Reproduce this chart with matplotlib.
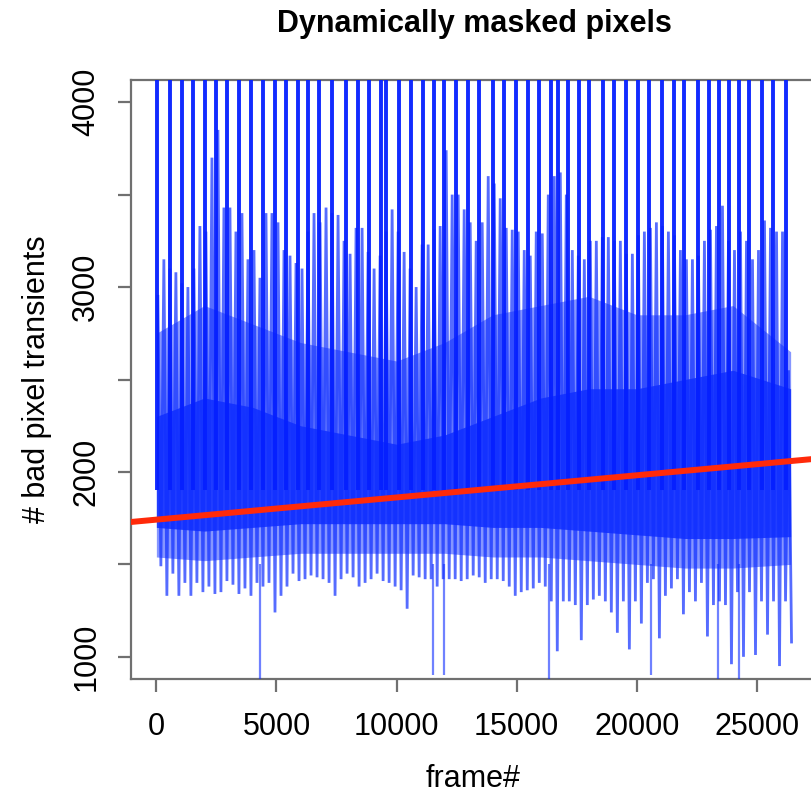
import numpy as np
import matplotlib
matplotlib.use("Agg")
import matplotlib.pyplot as plt

plt.rcParams['font.family'] = ['Liberation Sans', 'DejaVu Sans']

# ---- data ----
bin_start = 125          # centre of first 250-frame bin
bin_step = 250
upper_tips = [2950, 3150, 3100, 3080, 3020, 3000, 3100, 3330, 3300, 3700, 3850, 3430, 3430, 3300,
              3400, 3150, 3200, 3050, 3400, 3400, 3350, 3200, 3170, 3130, 3100, 3300, 3400,
              3350, 3430, 3400, 3390, 3250, 3180, 3320, 3320, 3190, 3100, 3170, 3300, 3420, 3300,
              3190, 3100, 3000, 3230, 3230, 3310, 3330, 3740, 3500, 3500, 3420, 3350, 3250,
              3350, 3600, 3560, 3480, 3320, 3310, 3300, 3200, 3170, 3300, 3290, 3500, 3600, 3620,
              3500, 3200, 3170, 3150, 3250, 3250, 3270, 3270, 3250, 3250, 3180, 3180, 3280,
              3300, 3320, 3350, 3330, 3300, 3280, 3200, 3150, 3150, 3170, 3250, 3310, 3330, 3440,
              3250, 3200, 3300, 3250, 3150, 3200, 3360, 3320, 3300, 3300, 2550]
lower_tips = [1490, 1330, 1450, 1330, 1400, 1330, 1400, 1350, 1380, 1340, 1350, 1410, 1390, 1340,
              1370, 1330, 1400, 1380, 1400, 1240, 1330, 1380, 1450, 1410, 1420, 1440, 1430,
              1420, 1400, 1330, 1420, 1450, 1430, 1380, 1400, 1420, 1450, 1410, 1400, 1380, 1360,
              1260, 1440, 1430, 1420, 1420, 1380, 1420, 1420, 1420, 1410, 1420, 1440, 1430,
              1400, 1420, 1420, 1410, 1380, 1330, 1350, 1360, 1370, 1400, 1380, 1300, 1030, 1300,
              1300, 1280, 1090, 1280, 1310, 1330, 1300, 1240, 1130, 1300, 1040, 1300, 1180,
              1400, 1420, 1100, 1330, 1370, 1420, 1230, 1350, 1300, 1400, 1110, 1280, 1300, 1280,
              960, 1350, 1000, 1350, 1010, 1300, 1120, 1300, 950, 1300, 1080]

band_frames = [0, 2000, 4000, 6000, 8000, 10000, 12000, 14000, 16000, 18000, 20000, 22000, 24000, 26400]
core_top = [2300, 2400, 2350, 2250, 2200, 2150, 2200, 2300, 2400, 2450, 2450, 2500, 2550, 2450]
core_bottom = [1700, 1680, 1700, 1720, 1720, 1720, 1720, 1700, 1700, 1680, 1660, 1640, 1640, 1650]
mid_top = [2750, 2900, 2800, 2700, 2650, 2600, 2700, 2850, 2900, 2950, 2850, 2850, 2900, 2650]
mid_bottom = [1540, 1520, 1540, 1560, 1560, 1560, 1560, 1540, 1540, 1520, 1500, 1480, 1480, 1500]

spike_frames = [40, 580, 1080, 1540, 2040, 2500, 2960, 3420, 3920, 4420, 4920, 5380, 5880, 6330,
                6790, 7330, 7880, 8380, 8830, 9330, 9540, 10080, 10580, 11080, 11540, 11960,
                12460, 12960, 13420, 14000, 14460, 14960, 15460, 15920, 16420, 16710, 17130,
                17580, 18000, 18580, 19040, 19540, 20040, 20500, 21040, 21540, 21960, 22540,
                23000, 23420, 23830, 24250, 24670, 25210, 25670, 26210]
spike_top = 4600

dip_frames = [4330, 11500, 11960, 16330, 20580, 23380, 24250]
dip_bottom = [850, 900, 900, 860, 900, 850, 850]

trend_intercept = 1742
trend_slope = 0.012

xticks = [0, 5000, 10000, 15000, 20000, 25000]
yticks_labeled = [1000, 2000, 3000, 4000]
yticks_minor = [1500, 2500, 3500]

# ---- figure ----
W, H = 811, 794
fig = plt.figure(figsize=(W / 100, H / 100), dpi=100)
ax = fig.add_axes([131 / W, (H - 679) / H, 685 / W, 599 / H])

blue = (0.06, 0.18, 1.0)
n = len(upper_tips)
centres = bin_start + bin_step * np.arange(n)
zx, zy = [], []
for c, h, l in zip(centres, upper_tips, lower_tips):
    zx += [c - bin_step / 4, c + bin_step / 4]
    zy += [h, l]

ax.fill_between(band_frames, mid_bottom, mid_top, color=blue, lw=0, alpha=0.5, zorder=2)
ax.fill_between(band_frames, core_bottom, core_top, color=blue, lw=0, alpha=0.85, zorder=2)
ax.plot(zx, zy, color=blue, lw=2.0, alpha=0.7, zorder=3, solid_joinstyle='miter')
ax.vlines(spike_frames, 1900, spike_top, color=(0.02, 0.12, 1.0), lw=2.8, alpha=0.95, zorder=3)
ax.vlines(dip_frames, 1500, dip_bottom, color=blue, lw=1.6, alpha=0.6, zorder=3)

ax.axline((0, trend_intercept), slope=trend_slope, color='#ff2a0a', lw=4.3, zorder=5)

ax.set_xlim(-1056, 27456)
ax.set_ylim(880, 4120)

gray = '#707070'
for s in ax.spines.values():
    s.set_color(gray)
    s.set_linewidth(1.6)

ax.set_xticks(xticks)
ax.set_xticklabels([str(v) for v in xticks])
ax.set_yticks(yticks_labeled + yticks_minor)
ax.set_yticklabels([str(v) for v in yticks_labeled] + [''] * len(yticks_minor))
ax.tick_params(axis='both', direction='out', length=9.5, width=1.6, color=gray,
               labelsize=22, labelcolor='black')
ax.tick_params(axis='x', pad=14)
ax.tick_params(axis='y', pad=12)
for lab in ax.get_yticklabels():
    lab.set_rotation(90)
    lab.set_va('center')

ax.set_xlabel('frame#', fontsize=22, labelpad=16)
ax.set_ylabel('# bad pixel transients', fontsize=22, labelpad=14)
fig.text(474 / W, 1 - 24 / H, 'Dynamically masked pixels', ha='center', va='center',
         fontsize=22, fontweight='bold')

fig.savefig('out.png', dpi=100)
